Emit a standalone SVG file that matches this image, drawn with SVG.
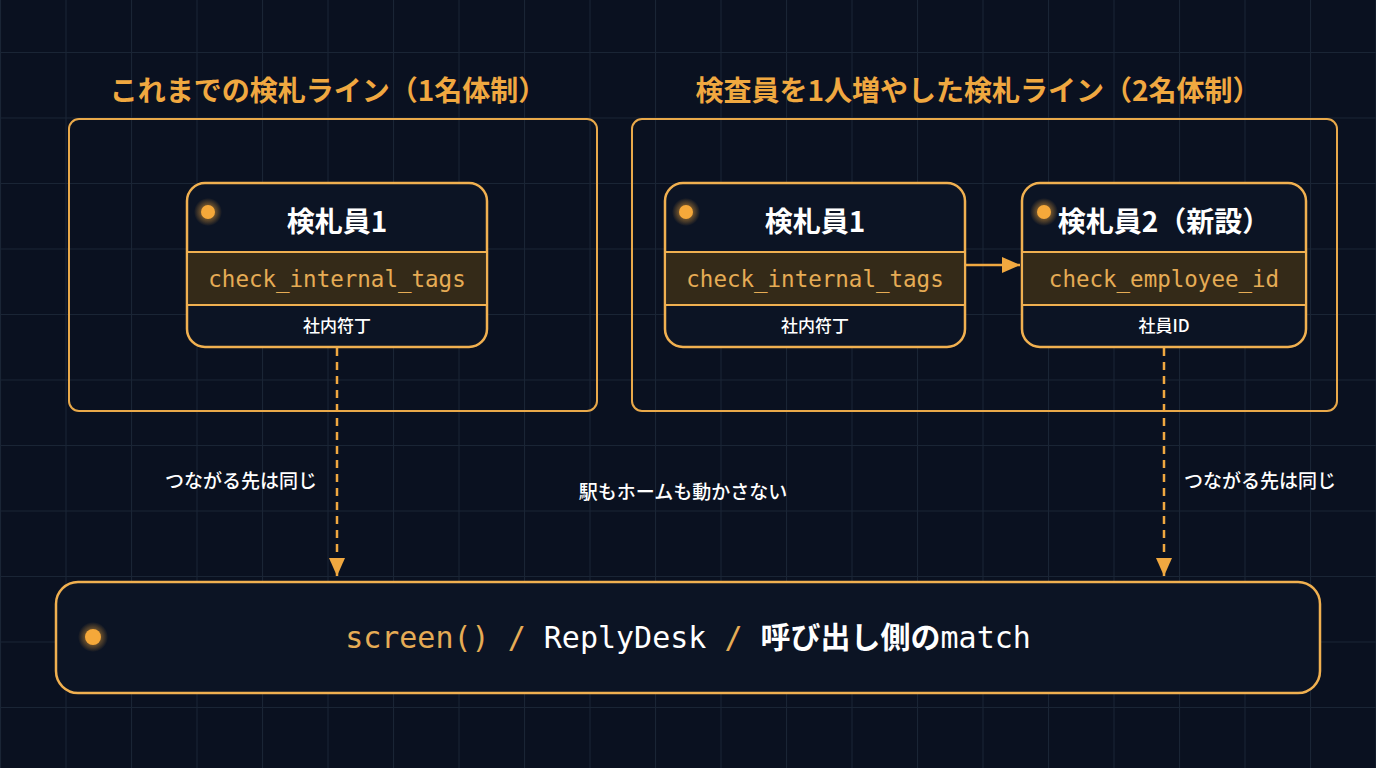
<svg xmlns="http://www.w3.org/2000/svg" width="1376" height="768" viewBox="0 0 1376 768">
<defs>
<pattern id="grid" x="0" y="52" width="65.5" height="65.5" patternUnits="userSpaceOnUse">
<path d="M0.5 0V65.5M0 0.5H65.5" stroke="#1a2535" stroke-width="1" fill="none"/>
</pattern>
<radialGradient id="glow"><stop offset="0.4" stop-color="#f5a83a" stop-opacity="0.5"/><stop offset="1" stop-color="#f5a83a" stop-opacity="0"/></radialGradient>
<marker id="arr2" markerWidth="20" markerHeight="20" refX="18" refY="10" orient="auto" markerUnits="userSpaceOnUse" viewBox="0 0 20 20"><path d="M0 2L18 10L0 18z" fill="#f0a840"/></marker>
</defs>
<style>
.box{fill:none;stroke:#e9a94a;stroke-width:2}
.node{fill:#0c1424;stroke:#f0b050;stroke-width:2.5}
.band{fill:#342a18}
.sep{stroke:#f0b050;stroke-width:2}
.title{font-family:"Noto Sans CJK JP",sans-serif;font-weight:700;font-size:28px;fill:#f0a840;text-anchor:middle}
.nt{font-family:"Noto Sans CJK JP",sans-serif;font-weight:700;font-size:28px;fill:#fff;text-anchor:middle}
.code{font-family:"DejaVu Sans Mono","Liberation Mono",monospace;font-size:22.5px;fill:#e6ac55;text-anchor:middle}
.sub{font-family:"Noto Sans CJK JP",sans-serif;font-weight:500;font-size:17px;fill:#fff;text-anchor:middle}
.lbl{font-family:"Noto Sans CJK JP",sans-serif;font-weight:500;font-size:19px;fill:#fff;text-anchor:middle}
.dot{fill:#f5a83a}
</style>
<rect width="1376" height="768" fill="#0a1120"/>
<rect width="1376" height="768" fill="url(#grid)"/>
<text class="title" x="328" y="101">これまでの検札ライン（1名体制）</text>
<text class="title" x="978" y="101">検査員を1人増やした検札ライン（2名体制）</text>
<rect class="box" x="69" y="119" width="528" height="292" rx="10"/>
<rect class="box" x="632" y="119" width="705" height="292" rx="10"/>
<g id="connectors" fill="none" stroke="#f0a840" stroke-width="2.5">
<path d="M337 348V576" stroke-dasharray="8 6" marker-end="url(#arr2)"/>
<path d="M1164 348V576" stroke-dasharray="8 6" marker-end="url(#arr2)"/>
<path d="M966 265H1020" marker-end="url(#arr2)"/>
</g>
<g id="n1">
<rect class="node" x="187" y="183" width="300" height="164" rx="18"/>
<rect class="band" x="188.5" y="252" width="297" height="53"/>
<line class="sep" x1="188" y1="252" x2="486" y2="252"/><line class="sep" x1="188" y1="305" x2="486" y2="305"/>
<circle cx="208" cy="212" r="14" fill="url(#glow)"/><circle class="dot" cx="208" cy="212" r="7"/>
<text class="nt" x="337" y="232">検札員1</text>
<text class="code" x="337" y="287">check_internal_tags</text>
<text class="sub" x="337" y="332">社内符丁</text>
</g>
<g id="n2">
<rect class="node" x="665" y="183" width="300" height="164" rx="18"/>
<rect class="band" x="666.5" y="252" width="297" height="53"/>
<line class="sep" x1="666" y1="252" x2="964" y2="252"/><line class="sep" x1="666" y1="305" x2="964" y2="305"/>
<circle cx="686" cy="212" r="14" fill="url(#glow)"/><circle class="dot" cx="686" cy="212" r="7"/>
<text class="nt" x="815" y="232">検札員1</text>
<text class="code" x="815" y="287">check_internal_tags</text>
<text class="sub" x="815" y="332">社内符丁</text>
</g>
<g id="n3">
<rect class="node" x="1022" y="183" width="284" height="164" rx="18"/>
<rect class="band" x="1023.5" y="252" width="281" height="53"/>
<line class="sep" x1="1023" y1="252" x2="1305" y2="252"/><line class="sep" x1="1023" y1="305" x2="1305" y2="305"/>
<circle cx="1044" cy="212" r="14" fill="url(#glow)"/><circle class="dot" cx="1044" cy="212" r="7"/>
<text class="nt" x="1164" y="232">検札員2（新設）</text>
<text class="code" x="1164" y="287">check_employee_id</text>
<text class="sub" x="1164" y="332">社員ID</text>
</g>
<g id="labels">
<text class="lbl" x="241" y="488">つながる先は同じ</text>
<text class="lbl" x="683" y="499">駅もホームも動かさない</text>
<text class="lbl" x="1260" y="488">つながる先は同じ</text>
</g>
<g id="bottom">
<rect class="node" x="56" y="582" width="1264" height="111" rx="22"/>
<circle cx="93" cy="637" r="15" fill="url(#glow)"/><circle class="dot" cx="93" cy="637" r="8"/>
<text x="688" y="648" text-anchor="middle" font-size="30" font-family="DejaVu Sans Mono,Noto Sans CJK JP,monospace"><tspan fill="#e6ac55">screen() / </tspan><tspan fill="#fff">ReplyDesk </tspan><tspan fill="#e6ac55">/ </tspan><tspan fill="#fff" font-family="Noto Sans CJK JP,sans-serif" font-weight="700">呼び出し側の</tspan><tspan fill="#fff">match</tspan></text>
</g>
</svg>
